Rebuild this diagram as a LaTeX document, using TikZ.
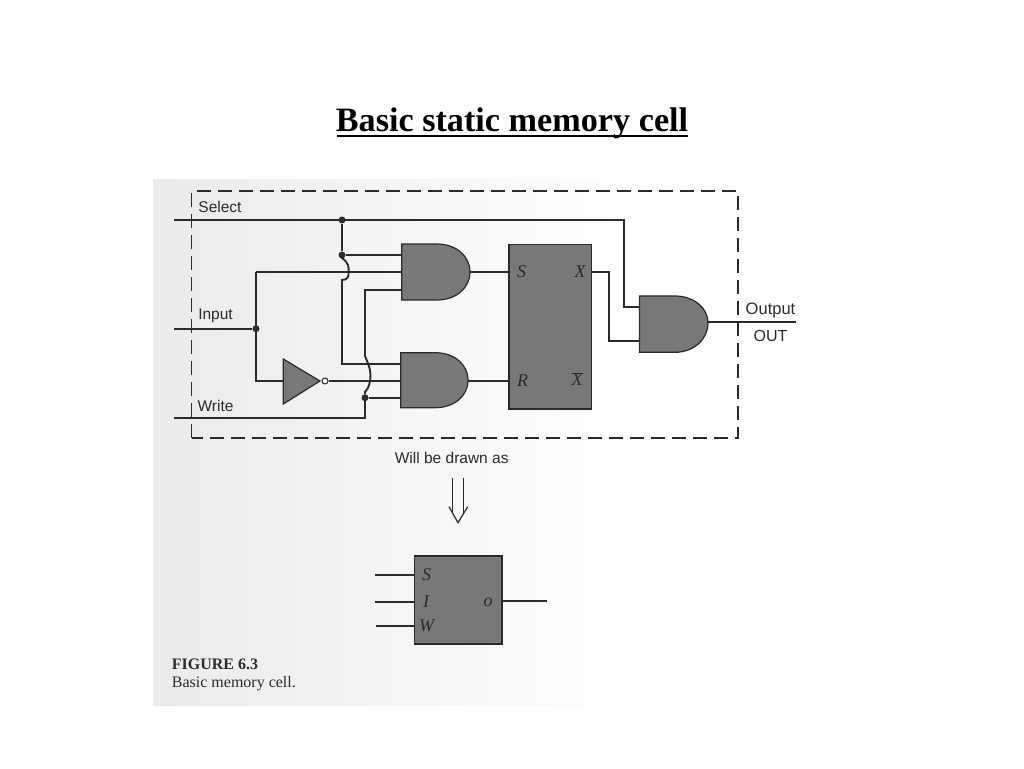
\documentclass[tikz,border=0pt]{standalone}
\usepackage{fontspec}
\setmainfont{Liberation Serif}
\setsansfont{Liberation Sans}
\definecolor{gatefill}{gray}{0.47}
\definecolor{ink}{gray}{0.17}
\tikzset{
  wire/.style={draw=ink,line width=1.9pt},
  thinwire/.style={draw=ink,line width=1.2pt},
  jdot/.style={circle,fill=ink,inner sep=0pt,minimum size=7pt},
  gatebody/.style={draw=ink,line width=1.2pt,fill=gatefill},
  lbl/.style={text=ink,font=\sffamily\fontsize{15.5}{15.5}\selectfont,inner sep=0pt},
  pin/.style={text=ink,font=\rmfamily\itshape\fontsize{18}{18}\selectfont,inner sep=0pt},
  captext/.style={text=ink,anchor=west,inner sep=0pt,font=\rmfamily\fontsize{16}{16}\selectfont}
}
\begin{document}
\begin{tikzpicture}[x=1pt,y=-1pt]
\useasboundingbox (0,0) rectangle (1024,768);
\fill[white] (0,0) rectangle (1024,768);
% scanned page
\shade[left color=black!8,middle color=black!4,right color=white] (153,179) rectangle (640,705);
\node[font=\rmfamily\bfseries\fontsize{34.2}{34.2}\selectfont,inner sep=0pt] (title) at (512,123.5) {Basic static memory cell};
\draw[black,line width=2.6pt] (337,136) -- (688,136);
% dashed frame
\draw[thinwire,dash pattern=on 14pt off 7pt] (191.7,438) -- (191.7,191) -- (738,191) -- (738,438) -- cycle;
% gates
\path[gatebody] (401.7,244) -- (437,244) .. controls (456,244) and (470,256) .. (470,272) .. controls (470,288) and (456,300) .. (437,300) -- (401.7,300) -- cycle;
\path[gatebody] (400.7,352.7) -- (435,352.7) .. controls (454,352.7) and (468,364) .. (468,380.5) .. controls (468,396) and (454,407.7) .. (435,407.7) -- (400.7,407.7) -- cycle;
\path[gatebody] (639.5,296) -- (675,296) .. controls (694,296) and (708,308) .. (708,323) .. controls (708,339) and (694,352.3) .. (675,352.3) -- (639.5,352.3) -- cycle;
\path[gatebody] (283.3,359) -- (320,381) -- (283.3,404) -- cycle;
\node[gatebody,minimum width=82.7pt,minimum height=164.3pt,inner sep=0pt] (ff) at (550.3,326.8) {};
\node[gatebody,minimum width=87.7pt,minimum height=88pt,inner sep=0pt] (cell) at (458.2,600) {};
\coordinate (g1a) at (401.7,255);
\coordinate (g1b) at (401.7,272);
\coordinate (g1c) at (401.7,290);
\coordinate (g1o) at (470,272);
\coordinate (g2a) at (400.7,364);
\coordinate (g2b) at (400.7,381);
\coordinate (g2c) at (400.7,397.7);
\coordinate (g2o) at (468,381);
\coordinate (g3a) at (639.5,307);
\coordinate (g3b) at (639.5,341);
\coordinate (g3o) at (708,322.3);
\node[circle,draw=ink,line width=1pt,fill=white,inner sep=0pt,minimum size=6pt] (bub) at (325,381) {};
\node[jdot] (d1) at (342,220) {};
\node[jdot] (d2) at (342,255) {};
\node[jdot] (d3) at (256,328.7) {};
\node[jdot] (d4) at (365,397.7) {};
\coordinate (selin) at (174,219.7);
\coordinate (inpin) at (174,328.7);
\coordinate (wrin) at (174,418.3);
\coordinate (outend) at (795.7,322.3);
% wires
\draw[wire] (selin) -- (624,219.7) -- (624,307) -- (g3a);
\draw[wire] (d1) -- (d2) -- (g1a);
\draw[wire] (d2) -- (342,258) .. controls (349,263) and (349,268) .. (348.5,272) .. controls (349,276) and (348,280) .. (342,280) -- (342,364) -- (g2a);
\draw[wire] (inpin) -- (d3);
\draw[wire] (256,272) -- (g1b);
\draw[wire] (256,272) -- (256,381) -- (283.3,381);
\draw[wire] (bub) -- (g2b);
\draw[wire] (wrin) -- (365,418.3) -- (d4) -- (g2c);
\draw[wire] (d4) -- (365,392) .. controls (369,388) and (370.5,382) .. (370.5,375) .. controls (370.5,368) and (367,361) .. (365,356) -- (365,290) -- (g1c);
\draw[wire] (g1o) -- (509,272);
\draw[wire] (g2o) -- (509,381);
\draw[wire] (592,272.3) -- (608.7,272.3) -- (608.7,341) -- (g3b);
\draw[wire] (g3o) -- (outend);
% labels
\node[lbl] (tsel) at (220,206.5) {Select};
\node[lbl] (tin) at (215.5,316) {Input};
\node[lbl] (twr) at (215.5,406) {Write};
\node[lbl,font=\sffamily\fontsize{16.5}{16.5}\selectfont] (tout) at (770.5,310) {Output};
\node[lbl,font=\sffamily\fontsize{16}{16}\selectfont] (toutb) at (770.5,335.5) {OUT};
\node[pin] (ps) at (521.7,271.5) {S};
\node[pin] (px) at (580,271.5) {X};
\node[pin] (pr) at (522.7,380.5) {R};
\node[pin] (pxb) at (577,379) {$\overline{\mathit{X}}$};
\node[lbl] (wb) at (451.7,458.3) {Will be drawn as};
% double arrow
\coordinate (tipa) at (458,522.7);
\draw[thinwire] (452.7,478) -- (452.7,514);
\draw[thinwire] (463.3,478) -- (463.3,514);
\draw[thinwire] (449,506.7) -- (tipa) -- (467.7,506.7);
% small cell
\coordinate (cs) at (375,575);
\coordinate (ci) at (375,601.7);
\coordinate (cw) at (376,626);
\coordinate (co) at (546.7,601);
\draw[wire] (cs) -- (414.3,575);
\draw[wire] (ci) -- (414.3,601.7);
\draw[wire] (cw) -- (414.3,626);
\draw[wire] (502,601) -- (co);
\node[pin] (cps) at (426.7,575) {S};
\node[pin] (cpi) at (426,602) {I};
\node[pin] (cpw) at (426.7,626) {W};
\node[pin] (cpo) at (488,602) {o};
\node[captext,font=\rmfamily\bfseries\fontsize{16}{16}\selectfont] (figa) at (171.7,664) {FIGURE 6.3};
\node[captext] (figb) at (171.7,684) {Basic memory cell.};
\end{tikzpicture}
\end{document}
